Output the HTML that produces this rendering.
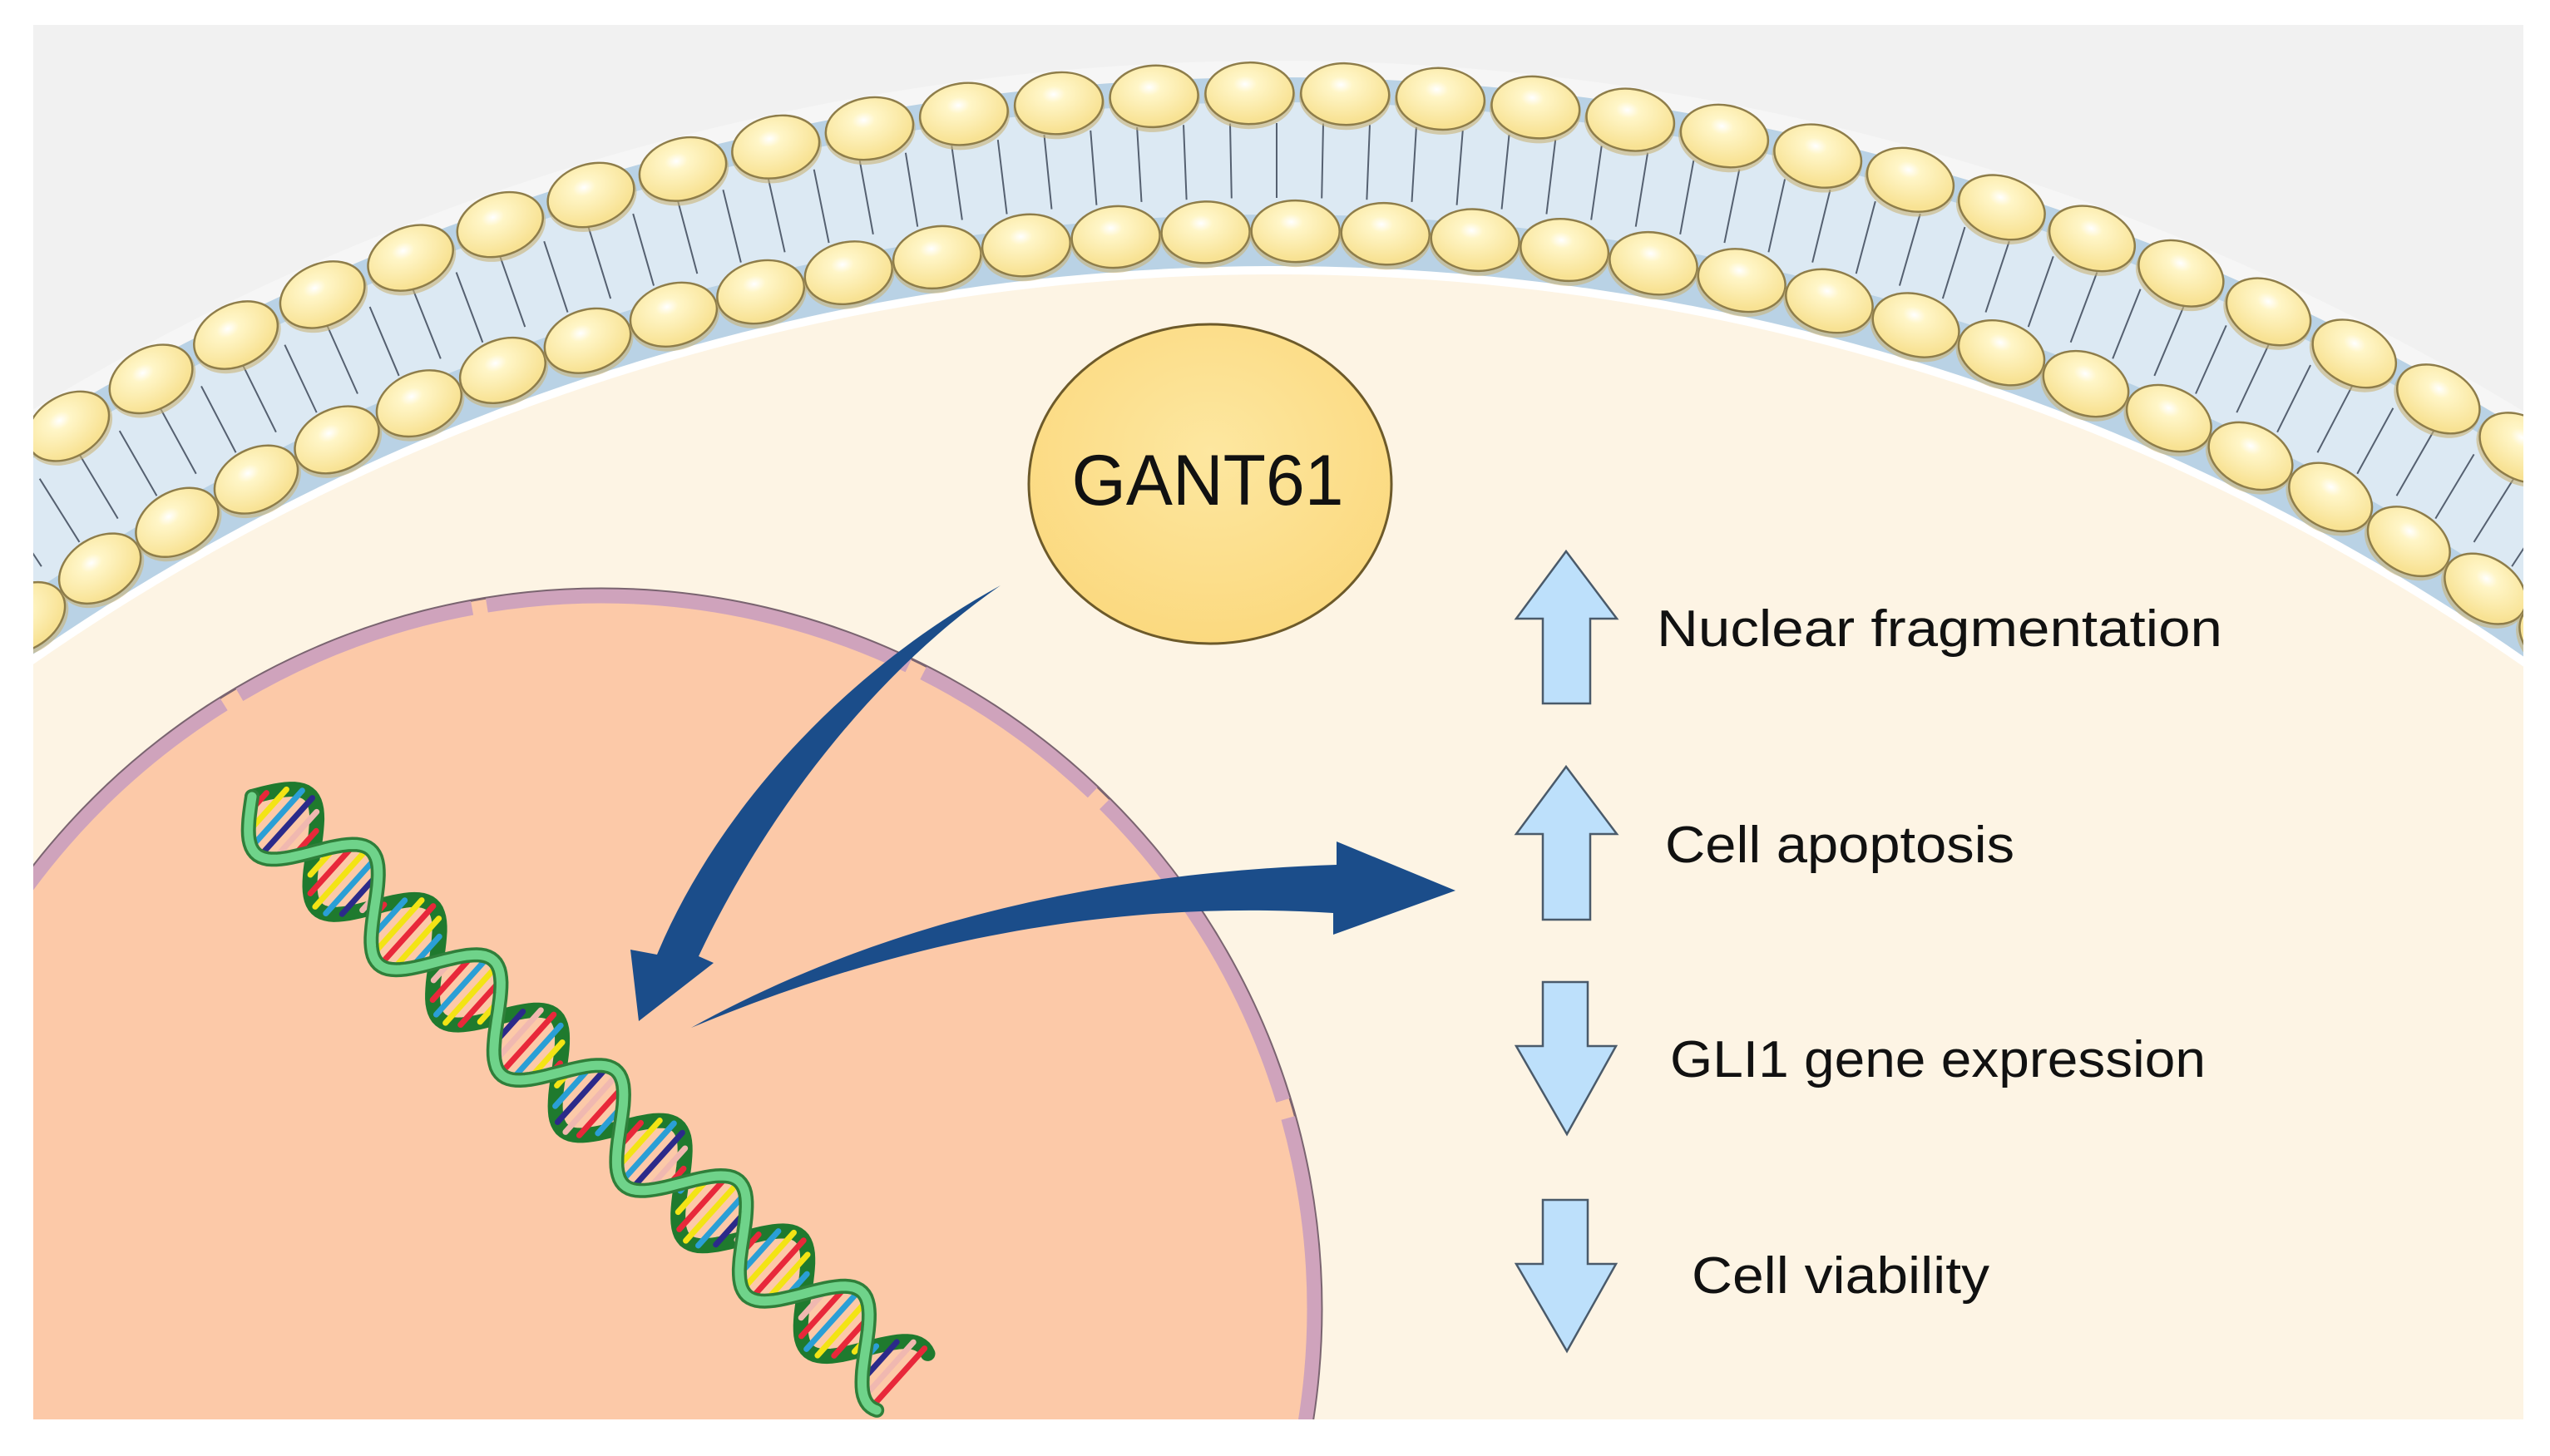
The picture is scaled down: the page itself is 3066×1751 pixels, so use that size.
<!DOCTYPE html>
<html><head><meta charset="utf-8"><style>
html,body{margin:0;padding:0;background:#fff;overflow:hidden;width:3066px;height:1751px;}
svg{display:block;}
text{font-family:"Liberation Sans",sans-serif;fill:#111;}
</style></head><body>
<svg id="s" width="3066" height="1751" viewBox="0 0 3066 1751" xmlns="http://www.w3.org/2000/svg">
<defs>
<clipPath id="panel"><rect x="40" y="30" width="2994" height="1677"/></clipPath>
<radialGradient id="head" cx="0.45" cy="0.35" r="0.6">
<stop offset="0" stop-color="#ffffff"/><stop offset="0.22" stop-color="#fff6c8"/><stop offset="1" stop-color="#f8e293"/>
</radialGradient>
<radialGradient id="gant" cx="0.5" cy="0.4" r="0.6">
<stop offset="0" stop-color="#fde7a0"/><stop offset="1" stop-color="#fbd97f"/>
</radialGradient>
<clipPath id="nucClip"><circle cx="723" cy="1574" r="866"/></clipPath>
</defs>
<rect width="3066" height="1751" fill="#fff"/>
<g clip-path="url(#panel)">
<rect x="40" y="30" width="2994" height="1677" fill="#f1f1f1"/>
<circle cx="1535" cy="2948" r="2875" fill="#f6f6f6"/>
<circle cx="1535" cy="2948" r="2855" fill="#b9d2e5"/>
<circle cx="1535" cy="2948" r="2825" fill="#dce9f3"/>
<circle cx="1535" cy="2948" r="2690" fill="#b9d2e5"/>
<circle cx="1535" cy="2948" r="2628" fill="#fff"/>
<circle cx="1535" cy="2948" r="2618" fill="#fdf4e4"/>
<g id="mem"></g>
<!-- nucleus -->
<circle cx="723" cy="1574" r="866" fill="#fcc9a8" stroke="#7a6470" stroke-width="3"/>
<circle cx="723" cy="1574" r="857" fill="none" stroke="#cfa3bc" stroke-width="17" stroke-dasharray="420 22 300 18 520 20 250 20"/>
<g id="dna" clip-path="url(#nucClip)"></g>
</g>
<!-- GANT61 -->
<ellipse cx="1455" cy="582" rx="218" ry="192" fill="url(#gant)" stroke="#6d5a2a" stroke-width="3"/>
<text x="1452" y="607" font-size="86" text-anchor="middle" textLength="327" lengthAdjust="spacingAndGlyphs">GANT61</text>
<!-- dark blue arrows -->
<path d="M1203,704 C1050,810 920,980 840,1150 L858,1158 L768,1228 L758,1142 L790,1148 C860,980 1010,810 1203,704 Z" fill="#1b4d8a"/>
<path d="M831,1236 C1040,1120 1300,1050 1607,1040 L1607,1012 L1750,1071 L1603,1124 L1603,1098 C1320,1080 1060,1140 831,1236 Z" fill="#1b4d8a"/>
<!-- light blue arrows -->
<g fill="#bde0fb" stroke="#4a5a6a" stroke-width="2.5">
<path d="M1883,663 L1944,744 L1912,744 L1912,846 L1855,846 L1855,744 L1823,744 Z"/>
<path d="M1883,922 L1944,1003 L1912,1003 L1912,1106 L1855,1106 L1855,1003 L1823,1003 Z"/>
<path d="M1855,1181 L1909,1181 L1909,1258 L1943,1258 L1884,1364 L1823,1258 L1855,1258 Z"/>
<path d="M1855,1443 L1909,1443 L1909,1520 L1943,1520 L1884,1625 L1823,1520 L1855,1520 Z"/>
</g>
<text x="1992" y="777" font-size="62" textLength="680" lengthAdjust="spacingAndGlyphs">Nuclear fragmentation</text>
<text x="2002" y="1037" font-size="62" textLength="420" lengthAdjust="spacingAndGlyphs">Cell apoptosis</text>
<text x="2008" y="1295" font-size="62" textLength="644" lengthAdjust="spacingAndGlyphs">GLI1 gene expression</text>
<text x="2034" y="1555" font-size="62" textLength="358" lengthAdjust="spacingAndGlyphs">Cell viability</text>
</svg>
<script>
(function(){
var NS="http://www.w3.org/2000/svg";
function el(t,a,p){var e=document.createElementNS(NS,t);for(var k in a)e.setAttribute(k,a[k]);p.appendChild(e);return e;}
var mem=document.getElementById('mem');
var cx=1535,cy=2948;
for(var a=-0.62;a<=0.62;a+=0.02){
  var s=Math.sin(a),c=Math.cos(a);
  el('line',{x1:cx+s*2800,y1:cy-c*2800,x2:cx+s*2710,y2:cy-c*2710,stroke:'#556070','stroke-width':2},mem);
}
function row(R,step,off){
  for(var a=off-0.7;a<=0.7;a+=step){
    var s=Math.sin(a),c=Math.cos(a);
    var x=cx+s*R,y=cy-c*R;
    var g=el('g',{transform:'translate('+x+','+y+') rotate('+(a*180/Math.PI)+')'},mem);
    el('ellipse',{cx:0,cy:4,rx:55,ry:39,fill:'#c9b478',opacity:0.6},g);
    el('ellipse',{cx:0,cy:0,rx:53,ry:37,fill:'url(#head)',stroke:'#8e7d4a','stroke-width':2.5},g);
  }
}
row(2836,0.0405,0);
row(2670,0.0405,0.02);
var dna=document.getElementById('dna');
var x0=303,y0=958,x1=1085,y1=1662;
var dx=x1-x0,dy=y1-y0,L=Math.sqrt(dx*dx+dy*dy),ux=dx/L,uy=dy/L,nx=-uy,ny=ux;
var amp=48,per=L/5.3;
function pt(t,ph){var w=amp*Math.sin(2*Math.PI*t/per+ph);return [x0+ux*t+nx*w,y0+uy*t+ny*w];}
var cols=['#e8283a','#f3e414','#2a9fd6','#2b2a8a','#f0b8b0','#e8283a','#2a9fd6','#f3e414'];
function strand(ph,color,w){
  var d='';for(var t=0;t<=L;t+=4){var p=pt(t,ph);d+=(t?'L':'M')+p[0].toFixed(1)+','+p[1].toFixed(1);}
  el('path',{d:d,fill:'none',stroke:color,'stroke-width':w,'stroke-linecap':'round'},dna);
}
strand(Math.PI,'#1f7a2e',18);
var i=0;
for(var t=10;t<L-5;t+=15){
  var a=pt(t,0),b=pt(t,Math.PI);
  el('line',{x1:a[0],y1:a[1],x2:b[0],y2:b[1],stroke:cols[i%cols.length],'stroke-width':7,'stroke-linecap':'round'},dna);i++;
}
strand(0,'#2f7f3a',18);
strand(0,'#6fd38a',11);
})();
</script>
</body></html>
